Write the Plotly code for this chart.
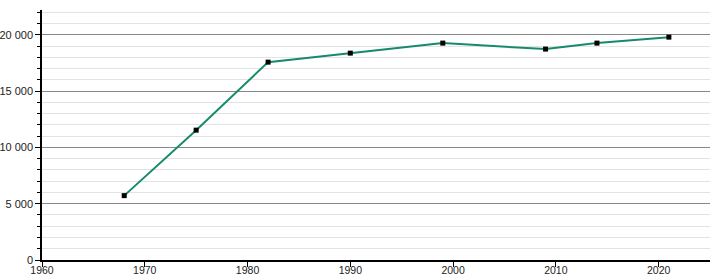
import plotly.graph_objects as go

years = [1968, 1975, 1982, 1990, 1999, 2009, 2014, 2021]
population = [5716, 11530, 17570, 18370, 19260, 18730, 19260, 19790]

fig = go.Figure()
fig.add_trace(go.Scatter(
    x=years, y=population, mode="lines+markers",
    line=dict(color="#168a6c", width=2),
    marker=dict(symbol="square", size=5, color="black"),
    hoverinfo="x+y",
))

fig.update_layout(
    width=720, height=280,
    margin=dict(l=42, r=10, t=10, b=20),
    paper_bgcolor="white", plot_bgcolor="white",
    separators=", ",
    showlegend=False,
    font=dict(family="Liberation Sans, Arial, sans-serif", size=11, color="#222"),
)
fig.update_xaxes(
    range=[1960, 2025], dtick=10, tick0=1960,
    showline=True, linecolor="black", linewidth=1.5,
    ticks="outside", ticklen=5, tickcolor="black",
    tickfont=dict(size=10.5), ticklabelstandoff=-5,
    showgrid=False, zeroline=False, automargin=False,
)
fig.update_yaxes(
    range=[0, 22200], dtick=5000, tickformat=",d",
    showline=True, linecolor="black", linewidth=1.5,
    ticks="outside", ticklen=5, tickcolor="black",
    showgrid=True, gridcolor="#888", gridwidth=1,
    zeroline=False, automargin=False,
    minor=dict(dtick=1000, showgrid=True, gridcolor="#e3e3e3", gridwidth=1,
               ticks="outside", ticklen=3, tickcolor="black"),
)

fig.write_html("out.html")
